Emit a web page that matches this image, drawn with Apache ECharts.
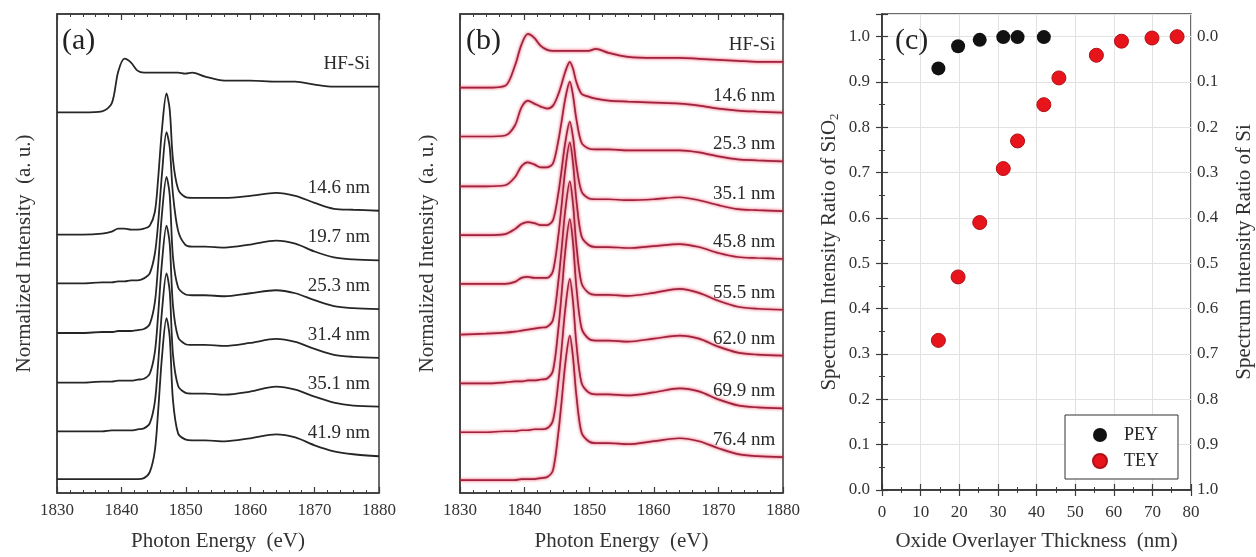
<!DOCTYPE html>
<html>
<head>
<meta charset="utf-8">
<script src="https://cdn.jsdelivr.net/npm/echarts@6/dist/echarts.min.js"></script>
<style>
  html, body { margin: 0; padding: 0; background: #fff; }
  #chart { width: 1256px; height: 557px; }
</style>
</head>
<body>
<div id="chart"></div>
<script>
// ---------- Si K-edge XANES spectra: shared photon-energy grid (eV) ----------
const energy = [1830, 1834, 1837, 1838.5, 1839.5, 1840.5, 1841.5, 1842.5, 1843.5, 1844.4,
  1845.2, 1845.7, 1846.3, 1847.0, 1847.5, 1848.0, 1848.8, 1849.9, 1851, 1853,
  1856, 1860, 1864, 1867, 1870, 1873, 1876, 1880];

// (a) PEY spectra, normalized intensity with vertical offsets (a.u.)
const pey_HFSi = [383, 383, 384, 392, 424, 437, 433, 425, 423, 423, 423, 423, 423, 423, 423, 423, 423, 422, 423, 419, 415, 415, 414, 414, 411, 409, 409, 409];
const pey_14_6 = [260, 260, 261, 263, 266, 266, 265, 265, 266, 269, 283, 316, 366, 402, 386, 336, 306, 298, 297, 297, 297, 299, 302, 299, 292, 286, 285, 284];
const pey_19_7 = [211, 211, 212, 212, 213, 213, 214, 214, 216, 221, 241, 271, 321, 363, 348, 301, 264, 250, 248, 248, 247, 250, 254, 251, 243, 237, 235, 234];
const pey_25_3 = [161, 161, 162, 162, 163, 163, 163, 164, 165, 170, 192, 229, 281, 318, 300, 238, 207, 200, 199, 199, 198, 201, 204, 201, 194, 188, 186, 185];
const pey_31_4 = [111, 111, 112, 112, 113, 113, 113, 114, 115, 120, 142, 179, 232, 269, 251, 189, 157, 150, 149, 149, 148, 151, 155, 152, 145, 139, 137, 136];
const pey_35_1 = [62, 62, 62, 63, 63, 63, 63, 64, 65, 70, 92, 130, 183, 221, 203, 140, 108, 101, 100, 100, 99, 102, 107, 104, 97, 91, 88, 87];
const pey_41_9 = [14, 14, 14, 14, 14, 14, 14, 14, 15, 21, 43, 82, 137, 176, 157, 94, 60, 54, 53, 53, 52, 55, 59, 56, 48, 42, 39, 37];
const peyNames = ['HF-Si', '14.6 nm', '19.7 nm', '25.3 nm', '31.4 nm', '35.1 nm', '41.9 nm'];
const peyCurves = [pey_HFSi, pey_14_6, pey_19_7, pey_25_3, pey_31_4, pey_35_1, pey_41_9];

// (b) TEY spectra, normalized intensity with vertical offsets (a.u.)
const tey_HFSi = [407, 407, 409, 429, 450, 461, 457, 449, 445, 444, 444, 444, 444, 444, 444, 444, 444, 444, 446, 442, 438, 437, 437, 436, 435, 434, 433, 433];
const tey_14_6 = [358, 358, 359, 369, 387, 394, 391, 388, 386, 389, 400, 410, 423, 433, 426, 413, 401, 398, 396, 394, 393, 392, 391, 389, 386, 384, 383, 382];
const tey_25_3 = [308, 308, 309, 317, 328, 332, 330, 327, 327, 331, 353, 372, 396, 413, 399, 376, 352, 346, 345, 345, 344, 344, 344, 342, 338, 335, 334, 333];
const tey_35_1 = [259, 259, 260, 265, 270, 272, 271, 269, 269, 274, 300, 323, 352, 373, 357, 330, 303, 296, 295, 295, 294, 295, 297, 294, 289, 285, 284, 283];
const tey_45_8 = [210, 210, 210, 212, 216, 217, 216, 216, 216, 223, 257, 287, 325, 352, 331, 295, 258, 249, 247, 247, 246, 248, 250, 247, 241, 237, 236, 235];
const tey_55_5 = [159, 160, 161, 162, 163, 164, 165, 166, 167, 174, 211, 243, 284, 313, 290, 250, 211, 201, 199, 199, 198, 201, 205, 201, 193, 187, 185, 184];
const tey_62_0 = [110, 110, 111, 112, 112, 113, 113, 114, 115, 123, 163, 198, 243, 275, 251, 208, 166, 155, 153, 153, 152, 155, 158, 155, 147, 141, 139, 138];
const tey_69_9 = [61, 61, 62, 62, 63, 63, 64, 64, 65, 73, 110, 143, 185, 215, 192, 151, 111, 101, 99, 99, 98, 101, 105, 102, 94, 88, 86, 85];
const tey_76_4 = [13, 13, 13, 13, 14, 14, 14, 15, 16, 23, 59, 90, 130, 158, 136, 99, 61, 52, 50, 50, 49, 52, 55, 52, 45, 39, 37, 36];
const teyNames = ['HF-Si', '14.6 nm', '25.3 nm', '35.1 nm', '45.8 nm', '55.5 nm', '62.0 nm', '69.9 nm', '76.4 nm'];
const teyCurves = [tey_HFSi, tey_14_6, tey_25_3, tey_35_1, tey_45_8, tey_55_5, tey_62_0, tey_69_9, tey_76_4];

// (c) SiO2 spectrum intensity ratio vs oxide overlayer thickness (nm)
const thicknessPEY = [14.6, 19.7, 25.3, 31.4, 35.1, 41.9];
const ratioPEY = [0.93, 0.979, 0.993, 0.999, 0.999, 0.999];
const thicknessTEY = [14.6, 19.7, 25.3, 31.4, 35.1, 41.9, 45.8, 55.5, 62.0, 69.9, 76.4];
const ratioTEY = [0.33, 0.47, 0.59, 0.709, 0.77, 0.85, 0.909, 0.959, 0.99, 0.997, 1.0];

// ---------- styling ----------
const SERIF = '"Liberation Serif", "Times New Roman", serif';
const AXIS_COLOR = '#3a3a3a';
const tickFont = { fontFamily: SERIF, fontSize: 17, color: '#333' };
const nameFont = { fontFamily: SERIF, fontSize: 21, color: '#333' };

function spectrumXAxis(grid, top) {
  return {
    gridIndex: grid, type: 'value', min: 1830, max: 1880, interval: 10,
    position: top ? 'top' : 'bottom',
    axisLine: { show: true, lineStyle: { color: AXIS_COLOR, width: 1.5 } },
    axisTick: { show: true, inside: true, length: 6, lineStyle: { color: AXIS_COLOR, width: 1.2 } },
    minorTick: { show: true, splitNumber: 5, length: 3, lineStyle: { color: AXIS_COLOR, width: 1 } },
    axisLabel: top ? { show: false } : Object.assign({ margin: 9, formatter: v => String(v) }, tickFont),
    splitLine: { show: false },
    name: top ? '' : 'Photon Energy  (eV)',
    nameLocation: 'middle', nameGap: 38, nameTextStyle: nameFont
  };
}
function spectrumYAxis(grid, max) {
  return {
    gridIndex: grid, type: 'value', min: 0, max: max,
    axisLine: { show: true, lineStyle: { color: AXIS_COLOR, width: 1.5 } },
    axisTick: { show: false }, axisLabel: { show: false }, splitLine: { show: false },
    name: 'Normalized Intensity  (a. u.)', nameLocation: 'middle', nameGap: 22,
    nameTextStyle: nameFont
  };
}
const tenth = v => Math.abs(v * 10 - Math.round(v * 10)) < 1e-6;

const series = [];
peyCurves.forEach((c, i) => series.push({
  name: peyNames[i], type: 'line', xAxisIndex: 0, yAxisIndex: 0,
  data: energy.map((e, k) => [e, c[k]]), showSymbol: false, smooth: 0.3,
  lineStyle: { color: '#262626', width: 1.8 }, silent: true
}));
teyCurves.forEach((c, i) => series.push({
  name: 'TEY ' + teyNames[i], type: 'line', xAxisIndex: 2, yAxisIndex: 1,
  data: energy.map((e, k) => [e, c[k]]), showSymbol: false, smooth: 0.3,
  lineStyle: { color: '#9e2340', width: 1.7, shadowColor: 'rgba(232,30,55,0.95)', shadowBlur: 3 },
  silent: true
}));
series.push({
  name: 'PEY', type: 'scatter', xAxisIndex: 4, yAxisIndex: 2, symbolSize: 14,
  data: thicknessPEY.map((t, i) => [t, ratioPEY[i]]),
  itemStyle: { color: '#111', opacity: 1 }
});
series.push({
  name: 'TEY', type: 'scatter', xAxisIndex: 4, yAxisIndex: 2, symbolSize: 14,
  data: thicknessTEY.map((t, i) => [t, ratioTEY[i]]),
  itemStyle: { color: '#e8141c', borderColor: '#b01018', borderWidth: 1, opacity: 1 }
});

const ratioTick = { show: true, inside: true, length: 6, lineStyle: { color: AXIS_COLOR, width: 1.2 } };
const ratioMinor = { show: true, splitNumber: 2, length: 3, lineStyle: { color: AXIS_COLOR, width: 1 } };
const faintGrid = { show: true, lineStyle: { color: '#e2e2e2', width: 1 } };

const option = {
  backgroundColor: '#fff',
  animation: false,
  grid: [
    { left: 57, top: 14, width: 322, height: 482, show: true, borderColor: AXIS_COLOR, borderWidth: 1.5 },
    { left: 460, top: 14, width: 323, height: 481, show: true, borderColor: AXIS_COLOR, borderWidth: 1.5 },
    { left: 882, top: 14, width: 310, height: 484, show: true, borderColor: AXIS_COLOR, borderWidth: 1.5 }
  ],
  xAxis: [
    spectrumXAxis(0, false), spectrumXAxis(0, true),
    spectrumXAxis(1, false), spectrumXAxis(1, true),
    {
      gridIndex: 2, type: 'value', min: 0, max: 80, interval: 10,
      axisLine: { show: true, lineStyle: { color: AXIS_COLOR, width: 1.5 } },
      axisTick: ratioTick, minorTick: ratioMinor,
      axisLabel: Object.assign({ margin: 14 }, tickFont),
      splitLine: faintGrid,
      name: 'Oxide Overlayer Thickness  (nm)', nameLocation: 'middle', nameGap: 41,
      nameTextStyle: nameFont
    },
    {
      gridIndex: 2, type: 'value', min: 0, max: 80, interval: 10, position: 'top',
      axisLine: { show: true, lineStyle: { color: AXIS_COLOR, width: 1.5 } },
      axisTick: ratioTick, minorTick: ratioMinor,
      axisLabel: { show: false }, splitLine: { show: false }
    }
  ],
  yAxis: [
    spectrumYAxis(0, 482),
    spectrumYAxis(1, 481),
    {
      gridIndex: 2, type: 'value', min: 0, max: 1.05, interval: 0.1,
      axisLine: { show: true, lineStyle: { color: AXIS_COLOR, width: 1.5 } },
      axisTick: ratioTick, minorTick: ratioMinor,
      axisLabel: Object.assign({ margin: 12, formatter: v => tenth(v) ? v.toFixed(1) : '' }, tickFont),
      splitLine: faintGrid,
      name: '{t|Spectrum Intensity Ratio of SiO}{s|2}', nameLocation: 'middle', nameGap: 41,
      nameTextStyle: {
        rich: {
          t: { fontFamily: SERIF, fontSize: 21, color: '#333' },
          s: { fontFamily: SERIF, fontSize: 13, color: '#333', padding: [10, 0, 0, 0] }
        }
      }
    },
    {
      gridIndex: 2, type: 'value', min: 0, max: 1.05, interval: 0.1, position: 'right',
      axisLine: { show: true, lineStyle: { color: AXIS_COLOR, width: 1.5 } },
      axisTick: ratioTick, minorTick: ratioMinor,
      axisLabel: Object.assign({ margin: 6, formatter: v => tenth(v) ? (1 - v).toFixed(1) : '' }, tickFont),
      splitLine: { show: false },
      name: 'Spectrum Intensity Ratio of Si', nameLocation: 'middle', nameGap: 43, nameRotate: 90,
      nameTextStyle: nameFont
    }
  ],
  legend: {
    data: ['PEY', 'TEY'], orient: 'vertical', left: 1065, top: 415,
    padding: [11, 19, 9, 27], itemGap: 8, itemWidth: 14, itemHeight: 14, icon: 'circle',
    borderColor: '#333', borderWidth: 1, backgroundColor: '#fff',
    textStyle: { fontFamily: SERIF, fontSize: 18, color: '#222', padding: [0, 0, 0, 12] }
  },
  series: series
};

const chart = echarts.init(document.getElementById('chart'), null, { renderer: 'canvas' });
chart.setOption(option);

// Panel letters and curve labels, placed at the right end of each trace
const graphics = [
  { type: 'text', left: 62, top: 26, style: { text: '(a)', font: '30px ' + SERIF, fill: '#222' } },
  { type: 'text', left: 466, top: 26, style: { text: '(b)', font: '30px ' + SERIF, fill: '#222' } },
  { type: 'text', left: 895, top: 26, style: { text: '(c)', font: '30px ' + SERIF, fill: '#222' } }
];
function addCurveLabels(names, curves, xAxisIndex, yAxisIndex, xEnd, lift) {
  names.forEach((n, i) => {
    const end = curves[i][curves[i].length - 1];
    const p = chart.convertToPixel({ xAxisIndex: xAxisIndex, yAxisIndex: yAxisIndex }, [xEnd, end]);
    graphics.push({
      type: 'text', x: p[0], y: p[1] - lift,
      style: { text: n, font: '19px ' + SERIF, fill: '#2a2a2a', textAlign: 'right', textVerticalAlign: 'middle' }
    });
  });
}
addCurveLabels(peyNames, peyCurves, 0, 0, 1878.6, 23);
addCurveLabels(teyNames, teyCurves, 2, 1, 1878.8, 17);
chart.setOption({ graphic: graphics });
</script>
</body>
</html>
